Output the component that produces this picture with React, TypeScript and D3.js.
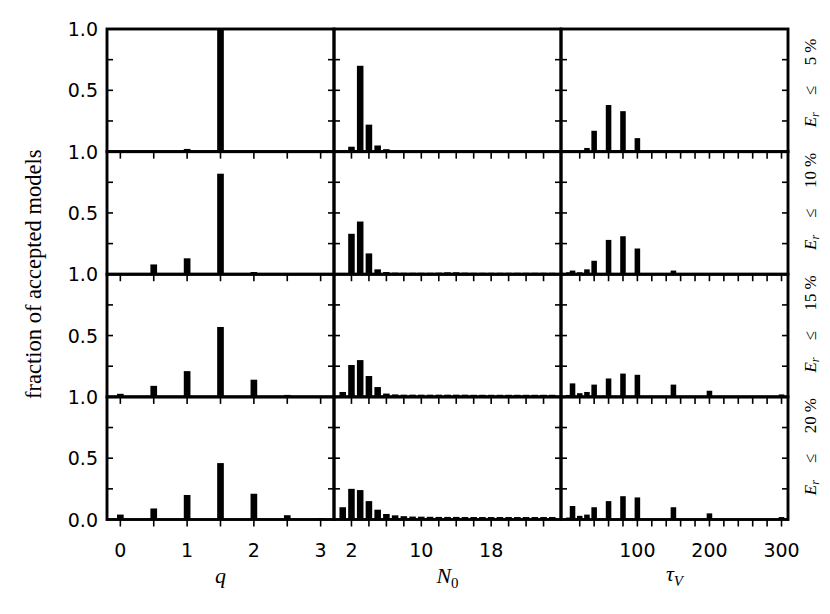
import React from 'react';
import * as d3 from 'd3';

// ---------- data ----------
const rowThresholds = ['5', '10', '15', '20'];

const qValues = [0, 0.5, 1, 1.5, 2, 2.5, 3];
const qFrac5 = [0, 0, 0.022, 1.0, 0, 0, 0];
const qFrac10 = [0, 0.08, 0.13, 0.82, 0.018, 0, 0];
const qFrac15 = [0.025, 0.09, 0.21, 0.57, 0.14, 0.016, 0];
const qFrac20 = [0.04, 0.09, 0.2, 0.46, 0.21, 0.035, 0.012];

const n0Values = [1, 2, 3, 4, 5, 6, 7, 8, 9, 10, 11, 12, 13, 14, 15, 16, 17, 18, 19, 20, 21, 22, 23, 24, 25];
const n0Frac5 = [0, 0.04, 0.7, 0.22, 0.05, 0.02, 0, 0, 0, 0, 0, 0, 0, 0, 0, 0, 0, 0, 0, 0, 0, 0, 0, 0, 0];
const n0Frac10 = [0, 0.33, 0.43, 0.17, 0.04, 0.018, 0.013, 0.012, 0.012, 0.012, 0.012, 0.013, 0.016, 0.016, 0.013, 0.012, 0.012, 0.012, 0.012, 0.012, 0.012, 0.012, 0.012, 0.012, 0.012];
const n0Frac15 = [0.04, 0.26, 0.3, 0.17, 0.08, 0.027, 0.02, 0.018, 0.018, 0.018, 0.018, 0.018, 0.018, 0.018, 0.018, 0.017, 0.017, 0.017, 0.017, 0.017, 0.017, 0.017, 0.017, 0.017, 0.017];
const n0Frac20 = [0.1, 0.25, 0.24, 0.15, 0.08, 0.045, 0.034, 0.027, 0.024, 0.023, 0.022, 0.021, 0.021, 0.021, 0.02, 0.02, 0.02, 0.02, 0.02, 0.02, 0.02, 0.02, 0.02, 0.02, 0.02];

const tauValues = [5, 10, 20, 30, 40, 60, 80, 100, 150, 200, 300];
const tauFrac5 = [0, 0, 0, 0.03, 0.17, 0.38, 0.33, 0.11, 0, 0, 0];
const tauFrac10 = [0.016, 0.03, 0.016, 0.04, 0.11, 0.28, 0.31, 0.21, 0.03, 0, 0];
const tauFrac15 = [0.016, 0.11, 0.03, 0.04, 0.1, 0.15, 0.19, 0.18, 0.1, 0.05, 0.02];
const tauFrac20 = [0.016, 0.11, 0.03, 0.04, 0.1, 0.15, 0.19, 0.18, 0.1, 0.05, 0.02];

const qTicks = [0, 0.5, 1, 1.5, 2, 2.5, 3];
const qTickLabels = [0, 1, 2, 3];
const n0Ticks = [2, 4, 6, 8, 10, 12, 14, 16, 18, 20, 22, 24];
const n0TickLabels = [2, 10, 18];
const tauTicks = [20, 40, 60, 80, 100, 120, 140, 160, 180, 200, 220, 240, 260, 280, 300];
const tauTickLabels = [100, 200, 300];
const yTicks = [0.25, 0.5, 0.75];

// ---------- layout ----------
const W = 830;
const H = 614;
const LEFT = 107;
const RIGHT = 788;
const TOP = 29;
const BOTTOM = 519.5;
const colW = (RIGHT - LEFT) / 3;
const rowH = (BOTTOM - TOP) / 4;

type ColSpec = {
  values: number[];
  rows: number[][];
  domain: [number, number];
  barWidth: number;
  ticks: number[];
  tickLabels: number[];
};

const columns: ColSpec[] = [
  { values: qValues, rows: [qFrac5, qFrac10, qFrac15, qFrac20], domain: [-0.2, 3.2], barWidth: 0.1, ticks: qTicks, tickLabels: qTickLabels },
  { values: n0Values, rows: [n0Frac5, n0Frac10, n0Frac15, n0Frac20], domain: [0, 26], barWidth: 0.75, ticks: n0Ticks, tickLabels: n0TickLabels },
  { values: tauValues, rows: [tauFrac5, tauFrac10, tauFrac15, tauFrac20], domain: [-6, 309], barWidth: 7.7, ticks: tauTicks, tickLabels: tauTickLabels },
];

const SANS = 'DejaVu Sans, sans-serif';
const SERIF = 'Liberation Serif, Times New Roman, serif';

function Panel({ col, ci, ri }: { col: ColSpec; ci: number; ri: number }) {
  const x0 = LEFT + ci * colW;
  const y0 = TOP + ri * rowH;
  const x = d3.scaleLinear().domain(col.domain).range([x0, x0 + colW]);
  const y = d3.scaleLinear().domain([0, 1]).range([y0 + rowH, y0]);
  const data = col.rows[ri];
  const bw = x(col.barWidth) - x(0);
  return (
    <g>
      {col.values.map((v, i) =>
        data[i] > 0 ? (
          <rect key={i} x={x(v) - bw / 2} y={y(data[i])} width={bw} height={y(0) - y(data[i])} fill="#000" />
        ) : null
      )}
    </g>
  );
}

function Frames() {
  const out: React.ReactElement[] = [];
  for (let ci = 0; ci < 3; ci++) {
    const col = columns[ci];
    const x0 = LEFT + ci * colW;
    const x = d3.scaleLinear().domain(col.domain).range([x0, x0 + colW]);
    for (let ri = 0; ri < 4; ri++) {
      const y0 = TOP + ri * rowH;
      const y = d3.scaleLinear().domain([0, 1]).range([y0 + rowH, y0]);
      yTicks.forEach((t, k) => {
        out.push(<line key={`yl${ci}${ri}${k}`} x1={x0} x2={x0 + 6} y1={y(t)} y2={y(t)} stroke="#000" strokeWidth={1.6} />);
        out.push(<line key={`yr${ci}${ri}${k}`} x1={x0 + colW - 6} x2={x0 + colW} y1={y(t)} y2={y(t)} stroke="#000" strokeWidth={1.6} />);
      });
      col.ticks.forEach((t, k) => {
        out.push(<line key={`xt${ci}${ri}${k}`} x1={x(t)} x2={x(t)} y1={y(0)} y2={y(0) + 7} stroke="#000" strokeWidth={1.6} />);
      });
      out.push(<rect key={`fr${ci}${ri}`} x={x0} y={y0} width={colW} height={rowH} fill="none" stroke="#000" strokeWidth={2.9} />);
    }
    col.tickLabels.forEach((t, k) => {
      out.push(
        <text key={`xl${ci}${k}`} x={x(t)} y={557} textAnchor="middle" fontFamily={SANS} fontSize={19}>
          {String(t)}
        </text>
      );
    });
  }
  for (let ri = 0; ri < 4; ri++) {
    const y0 = TOP + ri * rowH;
    const y = d3.scaleLinear().domain([0, 1]).range([y0 + rowH, y0]);
    const labels = ri === 3 ? [0, 0.5, 1] : [0.5, 1];
    labels.forEach((t) => {
      out.push(
        <text key={`ylb${ri}${t}`} x={98} y={y(t) + 7} textAnchor="end" fontFamily={SANS} fontSize={19}>
          {d3.format('.1f')(t)}
        </text>
      );
    });
  }
  return <g>{out}</g>;
}

function RowLabel({ ri }: { ri: number }) {
  const cy = TOP + (ri + 0.5) * rowH;
  const num = rowThresholds[ri];
  const numW = num.length * 8.5;
  return (
    <g transform={`translate(816,${cy}) rotate(-90)`} fontFamily={SERIF} fontSize={17}>
      <text x={-37} y={0}>
        <tspan fontStyle="italic">E</tspan>
        <tspan fontStyle="italic" fontSize={12} dy={3}>r</tspan>
      </text>
      <text x={-5} y={0}>≤</text>
      <text x={25} y={0}>{num}</text>
      <text x={25 + numW + 4} y={0}>%</text>
    </g>
  );
}

export default function App() {
  return (
    <svg width={W} height={H} style={{ position: 'absolute', left: 0, top: 0, background: '#fff' }}>
      <rect x={0} y={0} width={W} height={H} fill="#fff" />
      {columns.map((col, ci) => [0, 1, 2, 3].map((ri) => <Panel key={`${ci}-${ri}`} col={col} ci={ci} ri={ri} />))}
      <Frames />
      {[0, 1, 2, 3].map((ri) => (
        <RowLabel key={ri} ri={ri} />
      ))}
      <text transform={`translate(41,${(TOP + BOTTOM) / 2}) rotate(-90)`} textAnchor="middle" fontFamily={SERIF} fontSize={22.5}>
        fraction of accepted models
      </text>
      <text x={LEFT + colW * 0.5} y={583} textAnchor="middle" fontFamily={SERIF} fontStyle="italic" fontSize={22}>
        q
      </text>
      <text x={LEFT + colW * 1.5} y={583} textAnchor="middle" fontFamily={SERIF} fontSize={22}>
        <tspan fontStyle="italic">N</tspan>
        <tspan fontSize={15} dy={5}>0</tspan>
      </text>
      <text x={LEFT + colW * 2.5} y={581} textAnchor="middle" fontFamily={SERIF} fontSize={22}>
        <tspan fontStyle="italic">τ</tspan>
        <tspan fontStyle="italic" fontSize={15} dy={5}>V</tspan>
      </text>
    </svg>
  );
}
